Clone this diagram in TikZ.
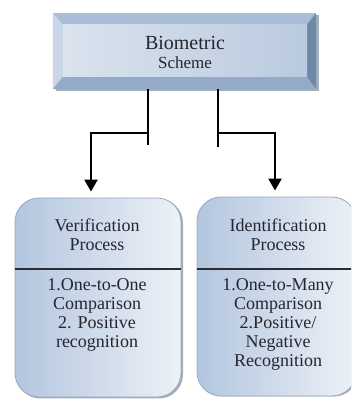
\documentclass[tikz,border=0pt]{standalone}
\usepackage{fontspec}
\setmainfont{Liberation Serif}
\usetikzlibrary{arrows.meta,calc}
\definecolor{txt}{HTML}{26262E}
\definecolor{bevT}{HTML}{A9BDD7}
\definecolor{bevL}{HTML}{C9D6E7}
\definecolor{bevR}{HTML}{7088A7}
\definecolor{bevB}{HTML}{93AAC8}
\definecolor{faceL}{HTML}{DAE3EE}
\definecolor{faceM}{HTML}{EEF2F7}
\definecolor{faceR}{HTML}{BACADF}
\definecolor{boxL}{HTML}{B3C6DF}
\definecolor{boxR}{HTML}{EDF1F7}
\definecolor{boxedge}{HTML}{98A9C0}
\definecolor{shadowc}{HTML}{A3AEBD}
\definecolor{divc}{HTML}{2A2C36}
\tikzset{
  outerbox/.style={minimum width=263pt,minimum height=76pt,inner sep=0pt,fill=bevT},
  facebox/.style={minimum width=244pt,minimum height=52pt,inner sep=0pt,
    left color=faceL,middle color=faceM,right color=faceR},
  titletext/.style={text=txt,inner sep=0pt},
  procbox/.style={minimum height=199pt,inner sep=0pt,rounded corners=24pt,
    left color=boxL,right color=boxR,draw=boxedge,line width=0.8pt},
  proctext/.style={text=txt,align=center,font=\fontsize{18}{19}\selectfont,inner sep=0pt},
  conn/.style={line width=2.3pt,draw=black},
  arr/.style={conn,-{Triangle[width=13pt,length=12pt]}}
}
\begin{document}
\begin{tikzpicture}[x=1pt,y=1pt]
\useasboundingbox (0,0) rectangle (351,401);
\begin{scope}
\clip (0,0) rectangle (351,401);
% top bevelled box
\fill[shadowc] (55.5,309.5) rectangle (318.5,386);
\node[outerbox] (bio) at (184.5,350) {};
\fill[bevL] (bio.north west) -- ++(10,-12) -- ++(0,-52) -- (bio.south west) -- cycle;
\fill[bevR] (bio.north east) -- ++(-9.5,-12) -- ++(0,-52) -- (bio.south east) -- cycle;
\fill[bevB] (bio.south west) -- ++(10,12) -- ++(243.5,0) -- (bio.south east) -- cycle;
\node[facebox] (face) at (185,350) {};
\node[titletext,font=\fontsize{20}{22}\selectfont] (biot1) at (185,358) {Biometric};
\node[titletext,font=\fontsize{17}{20}\selectfont] (biot2) at (185,338) {Scheme};
% lower boxes
\fill[shadowc,rounded corners=24pt] (16.5,2.5) rectangle (183,202);
\node[procbox,minimum width=166pt] (ver) at (98,103.5) {};
\fill[shadowc,rounded corners=24pt] (198.5,4.5) rectangle (358,201);
\node[procbox,minimum width=159pt] (ide) at (276.5,104.5) {};
\draw[divc,line width=2.4pt] (ver.west |- 0,132) -- (ver.east |- 0,132);
\draw[divc,line width=2.4pt] (ide.west |- 0,132) -- (ide.east |- 0,132);
\node[proctext] (vt) at (97,166) {Verification\\Process};
\node[proctext] (vb) at (97,86) {1.One-to-One\\Comparison\\2. Positive\\recognition};
\node[proctext] (it) at (278,166) {Identification\\Process};
\node[proctext] (ib) at (278,77) {1.One-to-Many\\Comparison\\2.Positive/\\Negative\\Recognition};
% connectors
\coordinate (ls) at ([xshift=-36.5pt]bio.south);
\coordinate (rs) at ([xshift=33.5pt]bio.south);
\draw[conn] (ls) -- ++(0,-56);
\draw[conn] (rs) -- ++(0,-58);
\draw[arr,shorten >=6pt] ([yshift=-44pt]ls) -| ([xshift=-7pt]ver.north);
\draw[arr,shorten >=6pt] ([yshift=-44pt]rs) -| ([xshift=-1.5pt]ide.north);
\end{scope}
\end{tikzpicture}
\end{document}
